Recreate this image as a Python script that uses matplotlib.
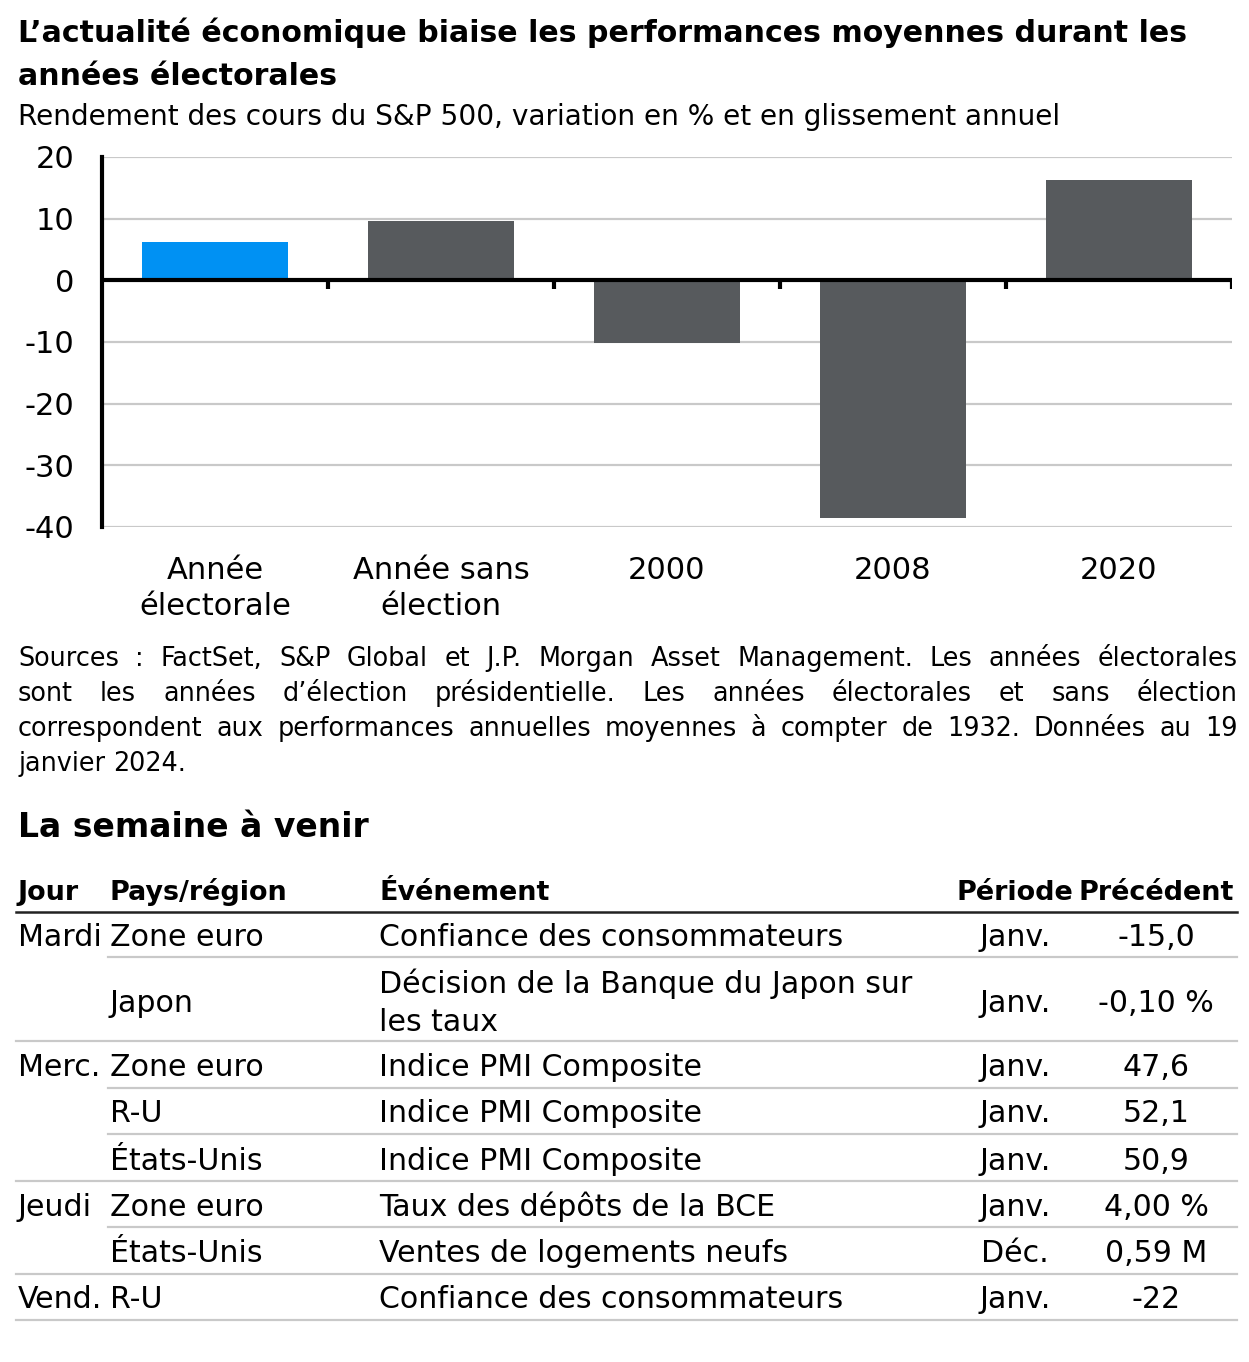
import matplotlib
matplotlib.use("Agg")
from matplotlib import pyplot as plt

# chart data
categories = ["Année\nélectorale", "Année sans\nélection", "2000", "2008", "2020"]
returns = [6.2, 9.6, -10.1, -38.5, 16.3]
bar_colors = ["#0091f3", "#575a5d", "#575a5d", "#575a5d", "#575a5d"]
yticks = [20, 10, 0, -10, -20, -30, -40]

title_lines = ["L’actualité économique biaise les performances moyennes durant les",
               "années électorales"]
subtitle = "Rendement des cours du S&P 500, variation en % et en glissement annuel"
note_lines = [
    "Sources : FactSet, S&P Global et J.P. Morgan Asset Management. Les années électorales",
    "sont les années d’élection présidentielle. Les années électorales et sans élection",
    "correspondent aux performances annuelles moyennes à compter de 1932. Données au 19",
    "janvier 2024.",
]

# table data
table_title = "La semaine à venir"
headers = ["Jour", "Pays/région", "Événement", "Période", "Précédent"]
days = ["Mardi", "", "Merc.", "", "", "Jeudi", "", "Vend."]
countries = ["Zone euro", "Japon", "Zone euro", "R-U", "États-Unis", "Zone euro", "États-Unis", "R-U"]
events = ["Confiance des consommateurs", "Décision de la Banque du Japon sur\nles taux",
          "Indice PMI Composite", "Indice PMI Composite", "Indice PMI Composite",
          "Taux des dépôts de la BCE", "Ventes de logements neufs", "Confiance des consommateurs"]
periods = ["Janv.", "Janv.", "Janv.", "Janv.", "Janv.", "Janv.", "Déc.", "Janv."]
previous = ["-15,0", "-0,10 %", "47,6", "52,1", "50,9", "4,00 %", "0,59 M", "-22"]

W, H = 1249, 1362
plt.rcParams['font.family'] = ["DejaVu Sans"]

fig = plt.figure(figsize=(W / 100, H / 100), dpi=100)


def fx(x):
    return x / W


def fy(y):
    return 1 - y / H


def pt(px):
    return px * 0.72


# ---- bar chart ----
ax = fig.add_axes([fx(102), fy(527), (1232 - 102) / W, (527 - 157) / H])
x = range(len(categories))
ax.bar(x, returns, width=0.65, color=bar_colors, zorder=2)
ax.set_xlim(-0.5, len(categories) - 0.5)
ax.set_ylim(-40, 20)
ax.set_yticks(yticks)
ax.set_yticklabels([str(v) for v in yticks], fontsize=pt(30.5))
ax.yaxis.grid(True, color="#c9c9c9", linewidth=1.6, zorder=0)
ax.set_axisbelow(True)
for s in ["top", "right", "bottom"]:
    ax.spines[s].set_visible(False)
ax.spines["left"].set_linewidth(3)
ax.spines["left"].set_color("black")
ax.axhline(0, color="black", linewidth=3, zorder=3)
for b in [i + 0.5 for i in range(len(categories))]:
    ax.plot([b, b], [0, -1.4], color="black", linewidth=3, zorder=3, solid_capstyle="butt")
ax.set_xticks(list(x))
ax.set_xticklabels(categories, fontsize=pt(30.5), linespacing=1.3)
ax.tick_params(axis="x", length=0, pad=pt(29))
ax.tick_params(axis="y", length=0, pad=pt(28))

# ---- titles ----
fig.text(fx(18), fy(42), title_lines[0], fontsize=pt(30), fontweight="bold", va="baseline")
fig.text(fx(18), fy(85), title_lines[1], fontsize=pt(30), fontweight="bold", va="baseline")
fig.text(fx(18), fy(125), subtitle, fontsize=pt(28), va="baseline", ha="left")

# ---- justified note ----
fig.canvas.draw()
renderer = fig.canvas.get_renderer()


def text_width(s, size):
    t = fig.text(0, 0, s, fontsize=size)
    w = t.get_window_extent(renderer).width
    t.remove()
    return w


def justify(line, ybase, x0, x1, size, last=False):
    words = line.split(" ")
    widths = [text_width(w, size) for w in words]
    if last or len(words) == 1:
        gap = text_width("a a", size) - 2 * text_width("a", size)
    else:
        gap = (x1 - x0 - sum(widths)) / (len(words) - 1)
    cur = x0
    for w, wd in zip(words, widths):
        fig.text(fx(cur), fy(ybase), w, fontsize=size, va="baseline", ha="left")
        cur += wd + gap


note_base = [666, 701, 736, 771]
for i, (line, yb) in enumerate(zip(note_lines, note_base)):
    justify(line, yb, 18, 1238, pt(25.5), last=(i == len(note_lines) - 1))

# ---- table ----
fig.text(fx(18), fy(837), table_title, fontsize=pt(33), fontweight="bold", va="baseline")

col_x = [18, 110, 379, 1015, 1156]
col_ha = ["left", "left", "left", "center", "center"]
for hx, ha, h in zip(col_x, col_ha, headers):
    fig.text(fx(hx), fy(900), h, fontsize=pt(27), fontweight="bold", va="baseline", ha=ha)
fig.add_artist(plt.Line2D([fx(16), fx(1237)], [fy(912), fy(912)], color="#222222", linewidth=1.8))

row_centers = [938, 1003, 1067, 1114, 1161, 1207, 1254, 1300]
line_y = [957, 1041, 1088, 1134, 1181, 1227, 1274, 1320]
for i in range(len(countries)):
    yc = row_centers[i]
    vals = [days[i], countries[i], events[i], periods[i], previous[i]]
    for cx, ha, v in zip(col_x, col_ha, vals):
        fig.text(fx(cx), fy(yc), v, fontsize=pt(30), va="center", ha=ha, linespacing=1.4)
    # a line under the row; short lines stay inside the same day group
    full = i == len(countries) - 1 or days[i + 1] != ""
    x0 = 16 if full else 108
    fig.add_artist(plt.Line2D([fx(x0), fx(1237)], [fy(line_y[i]), fy(line_y[i])],
                              color="#c9c9c9", linewidth=1.6))

fig.savefig("out.png", dpi=100)
